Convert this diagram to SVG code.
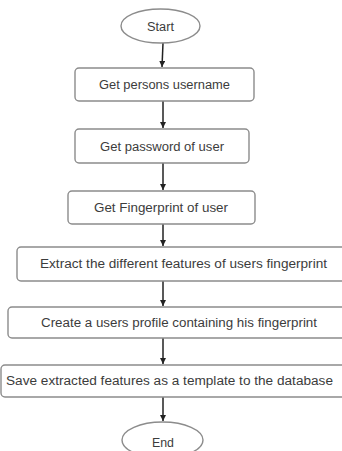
<svg xmlns="http://www.w3.org/2000/svg" width="342" height="451" viewBox="0 0 342 451">
<style>
.box{fill:#fff;stroke:#8c8c8c;stroke-width:1.4}
.t{font-family:"Liberation Sans",Arial,sans-serif;font-size:12.5px;fill:#3c3c3c;text-anchor:middle}
.c{stroke:#222;stroke-width:1.5;fill:none;marker-end:url(#ah)}
</style>
<defs>
<marker id="ah" viewBox="0 0 10 10" refX="10" refY="5" markerWidth="6" markerHeight="6" orient="auto" markerUnits="userSpaceOnUse">
<path d="M0,0 L10,5 L0,10 z" fill="#222"/>
</marker>
</defs>
<rect width="342" height="451" fill="#fff"/>
<g id="connectors">
<path class="c" d="M163,43 L162,67"/>
<path class="c" d="M163,101 L163,128"/>
<path class="c" d="M163,163 L163,190"/>
<path class="c" d="M163,224 L163,246"/>
<path class="c" d="M163,281 L163,306"/>
<path class="c" d="M163,338 L163,364"/>
<path class="c" d="M163,397 L163,421"/>
</g>
<g id="start">
<ellipse cx="160.5" cy="26" rx="39.5" ry="17" class="box"/>
<text class="t" x="160.5" y="31" textLength="27" lengthAdjust="spacingAndGlyphs">Start</text>
</g>
<g id="n1">
<rect class="box" x="75" y="68" width="179" height="33" rx="4"/>
<text class="t" x="164.5" y="88.5" textLength="131" lengthAdjust="spacingAndGlyphs">Get persons username</text>
</g>
<g id="n2">
<rect class="box" x="75" y="129" width="174" height="34" rx="4"/>
<text class="t" x="162" y="150.5" textLength="124" lengthAdjust="spacingAndGlyphs">Get password of user</text>
</g>
<g id="n3">
<rect class="box" x="68" y="191" width="187" height="33" rx="4"/>
<text class="t" x="161" y="212" textLength="134" lengthAdjust="spacingAndGlyphs">Get Fingerprint of user</text>
</g>
<g id="n4">
<rect class="box" x="17" y="247" width="340" height="34" rx="4"/>
<text class="t" x="183.5" y="268" textLength="287" lengthAdjust="spacingAndGlyphs">Extract the different features of users fingerprint</text>
</g>
<g id="n5">
<rect class="box" x="8" y="307" width="350" height="31" rx="4"/>
<text class="t" x="179" y="326.5" textLength="276" lengthAdjust="spacingAndGlyphs">Create a users profile containing his fingerprint</text>
</g>
<g id="n6">
<rect class="box" x="1" y="365" width="360" height="32" rx="4"/>
<text class="t" x="169.5" y="385" textLength="327" lengthAdjust="spacingAndGlyphs">Save extracted features as a template to the database</text>
</g>
<g id="end">
<ellipse cx="162.5" cy="440" rx="40.5" ry="18" class="box"/>
<text class="t" x="163" y="447" textLength="22" lengthAdjust="spacingAndGlyphs">End</text>
</g>
</svg>
